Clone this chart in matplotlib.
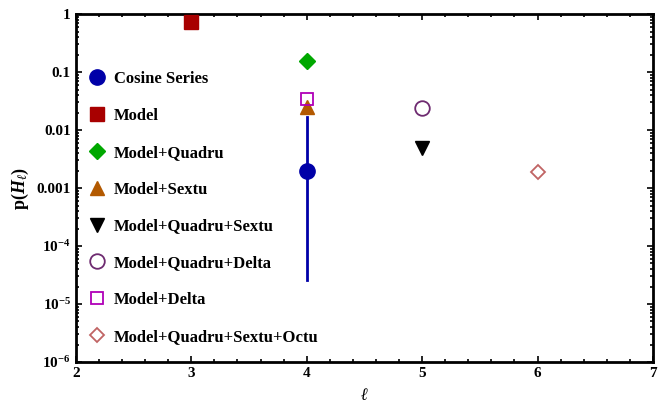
import matplotlib.pyplot as plt
import numpy as np
from matplotlib.ticker import FixedLocator, LogLocator, NullFormatter

plt.rcParams['font.family'] = ['Liberation Serif', 'DejaVu Serif']
plt.rcParams['mathtext.fontset'] = 'custom'
plt.rcParams['mathtext.rm'] = 'Liberation Serif:bold'
plt.rcParams['mathtext.it'] = 'Liberation Serif:bold:italic'
plt.rcParams['mathtext.bf'] = 'Liberation Serif:bold'

# data
labels = ['Cosine Series', 'Model', 'Model+Quadru', 'Model+Sextu',
          'Model+Quadru+Sextu', 'Model+Quadru+Delta', 'Model+Delta',
          'Model+Quadru+Sextu+Octu']
ell = [4, 3, 4, 4, 5, 5, 4, 6]
p_val = [0.002, 0.72, 0.155, 0.025, 0.0049, 0.024, 0.034, 0.0019]
cos_err_lo = [2.6e-5]
cos_err_hi = [0.0165]

markers = ['o', 's', 'D', '^', 'v', 'o', 's', 'D']
colors = ['#0000a8', '#a80000', '#00a800', '#b35900', '#000000',
          '#6e2a70', '#b000b8', '#c06464']
filled = [True, True, True, True, True, False, False, False]
msizes = [11, 9.5, 8, 10, 10, 10.5, 9, 7]

fig = plt.figure(figsize=(6.65, 4.04), dpi=100)
ax = fig.add_axes([0.114, 0.104, 0.868, 0.861])

# error bar of the cosine series point
ax.plot([ell[0], ell[0]], [cos_err_lo[0], cos_err_hi[0]], color=colors[0], lw=2, zorder=2)

for i in range(len(labels)):
    if filled[i]:
        ax.plot(ell[i], p_val[i], marker=markers[i], ms=msizes[i], color=colors[i],
                mec=colors[i], ls='none', label=labels[i], zorder=3)
    else:
        ax.plot(ell[i], p_val[i], marker=markers[i], ms=msizes[i], mfc='none',
                mec=colors[i], mew=1.3, ls='none', label=labels[i], zorder=3)

ax.set_yscale('log')
ax.set_xlim(2, 7)
ax.set_ylim(1e-6, 1)
ax.set_xticks([2, 3, 4, 5, 6, 7])
ax.xaxis.set_minor_locator(FixedLocator(np.arange(2, 7.01, 0.2)))
ax.set_yticks([1e-6, 1e-5, 1e-4, 1e-3, 1e-2, 0.1, 1])
ax.set_yticklabels([r'$10^{-6}$', r'$10^{-5}$', r'$10^{-4}$', '0.001', '0.01', '0.1', '1'])
ax.yaxis.set_minor_locator(LogLocator(base=10, subs=np.arange(2, 10)))
ax.yaxis.set_minor_formatter(NullFormatter())

ax.tick_params(which='both', direction='in', top=True, right=True, width=1.2)
ax.tick_params(which='major', length=4, labelsize=11)
ax.tick_params(which='minor', length=2)
for lbl in ax.get_xticklabels() + ax.get_yticklabels():
    lbl.set_fontweight('bold')
for s in ax.spines.values():
    s.set_linewidth(2)

ax.set_xlabel(r'$\ell$', fontsize=12, labelpad=6)
ax.set_ylabel(r'$\mathrm{p(}H_\ell\mathrm{)}$', fontsize=13, labelpad=4)

ax.legend(loc='upper left', bbox_to_anchor=(0.0, 0.87), frameon=False,
          prop={'weight': 'bold', 'size': 12}, labelspacing=1.25,
          handletextpad=0.5, handlelength=1.1, borderaxespad=0.3)

fig.savefig('out.png', dpi=100)
